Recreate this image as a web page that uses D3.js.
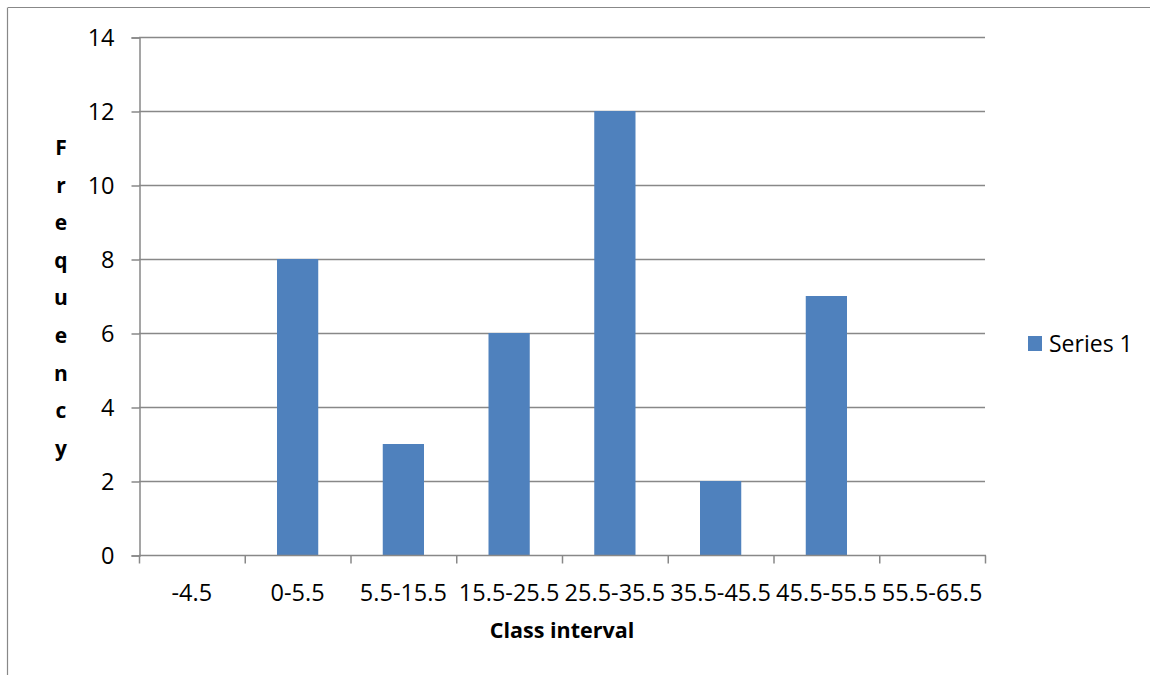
<!DOCTYPE html>
<html>
<head>
<meta charset="utf-8">
<script src="https://cdn.jsdelivr.net/npm/d3@7"></script>
<style>
  body { margin: 0; background: #fff; }
  text { font-family: "Open Sans", Lato, sans-serif; fill: #000; }
</style>
</head>
<body>
<div id="chart"></div>
<script>
const categories = ["-4.5", "0-5.5", "5.5-15.5", "15.5-25.5", "25.5-35.5", "35.5-45.5", "45.5-55.5", "55.5-65.5"];
const values = [null, 8, 3, 6, 12, 2, 7, null];
const yTicks = [0, 2, 4, 6, 8, 10, 12, 14];
const seriesName = "Series 1";
const yTitle = "Frequency";
const xTitle = "Class interval";

const W = 1150, H = 675;
const plotLeft = 139, plotRight = 985, plotTop = 37, plotBottom = 555;
const gridColor = "#888888";
const barColor = "#4F81BD";

const svg = d3.select("#chart").append("svg")
  .attr("width", W)
  .attr("height", H);

// outer frame (only top and left edges visible)
svg.append("line")
  .attr("x1", 8).attr("x2", W).attr("y1", 7.5).attr("y2", 7.5)
  .attr("stroke", gridColor).attr("stroke-width", 1.2);
svg.append("line")
  .attr("x1", 7.5).attr("x2", 7.5).attr("y1", 7.5).attr("y2", H)
  .attr("stroke", gridColor).attr("stroke-width", 1.2);

const x = d3.scaleBand().domain(categories).range([plotLeft, plotRight]).padding(0);
const xBar = d3.scaleBand().domain(categories).range([plotLeft, plotRight])
  .paddingInner(0.61).paddingOuter(0.305);
const y = d3.scaleLinear().domain([0, 14]).range([plotBottom, plotTop]);

// gridlines
svg.append("g")
  .selectAll("line")
  .data(yTicks.filter((d) => d > 0))
  .enter()
  .append("line")
  .attr("x1", plotLeft).attr("x2", plotRight)
  .attr("y1", (d) => y(d) + 0.5).attr("y2", (d) => y(d) + 0.5)
  .attr("stroke", gridColor).attr("stroke-width", 1.5);

// bars
svg.append("g")
  .selectAll("rect")
  .data(categories.map((c, i) => ({ c, v: values[i] })).filter((d) => d.v !== null))
  .enter()
  .append("rect")
  .attr("x", (d) => xBar(d.c))
  .attr("width", xBar.bandwidth())
  .attr("y", (d) => y(d.v))
  .attr("height", (d) => y(0) - y(d.v))
  .attr("fill", barColor);

// y axis
const yAxis = d3.axisLeft(y).tickValues(yTicks).tickSize(8).tickPadding(17);
const gy = svg.append("g")
  .attr("transform", `translate(${plotLeft + 0.5},0.5)`)
  .call(yAxis);
gy.select(".domain").attr("stroke", gridColor).attr("stroke-width", 1.5);
gy.selectAll(".tick line").attr("stroke", gridColor).attr("stroke-width", 1.5);
gy.selectAll(".tick text")
  .style("font-size", "23.5px")
  .attr("dy", "0.36em");

// x axis: ticks at category boundaries
const gx = svg.append("g").attr("transform", `translate(0,${plotBottom + 0.5})`);
gx.append("line")
  .attr("x1", plotLeft).attr("x2", plotRight + 1)
  .attr("stroke", gridColor).attr("stroke-width", 1.5);
gx.selectAll("line.tk")
  .data(categories.concat(["end"]))
  .enter()
  .append("line")
  .attr("class", "tk")
  .attr("x1", (d, i) => (i < categories.length ? x(d) : plotRight) + 0.5)
  .attr("x2", (d, i) => (i < categories.length ? x(d) : plotRight) + 0.5)
  .attr("y1", 0).attr("y2", 8)
  .attr("stroke", gridColor).attr("stroke-width", 1.5);
gx.selectAll("text")
  .data(categories)
  .enter()
  .append("text")
  .attr("x", (d) => x(d) + x.bandwidth() / 2)
  .attr("y", 45)
  .attr("text-anchor", "middle")
  .style("font-size", "23.5px")
  .text((d) => d);

// axis titles
svg.append("text")
  .attr("x", (plotLeft + plotRight) / 2)
  .attr("y", 638)
  .attr("text-anchor", "middle")
  .style("font-size", "21.5px")
  .style("font-weight", "bold")
  .text(xTitle);

svg.append("g")
  .selectAll("text")
  .data(yTitle.split(""))
  .enter()
  .append("text")
  .attr("x", 61)
  .attr("y", (d, i) => 155 + i * 37.6)
  .attr("text-anchor", "middle")
  .style("font-size", "21px")
  .style("font-weight", "bold")
  .text((d) => d);

// legend
svg.append("rect")
  .attr("x", 1028).attr("y", 336)
  .attr("width", 14).attr("height", 15)
  .attr("fill", barColor);
svg.append("text")
  .attr("x", 1049).attr("y", 352)
  .style("font-size", "23px")
  .text(seriesName);
</script>
</body>
</html>
